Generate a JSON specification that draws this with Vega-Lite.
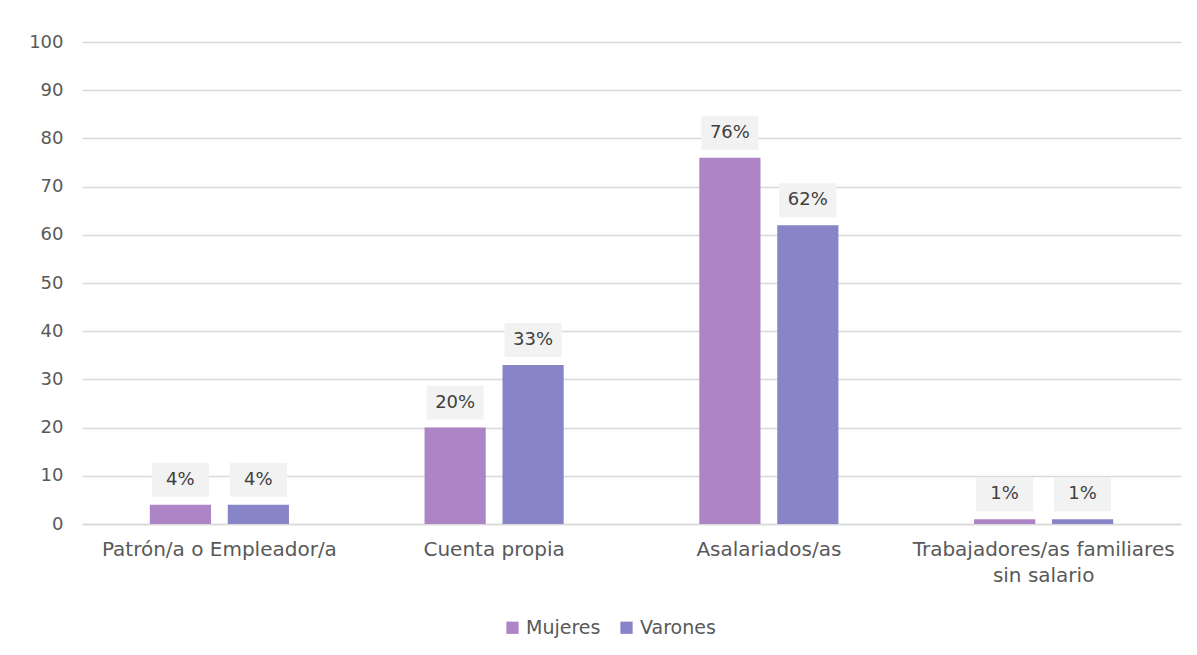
{
  "$schema": "https://vega.github.io/schema/vega-lite/v6.json",
  "width": 1099,
  "height": 482,
  "autosize": "none",
  "padding": {"left": 82, "top": 42, "right": 16, "bottom": 131},
  "background": "white",
  "config": {
    "view": {"stroke": null},
    "font": "DejaVu Sans",
    "axis": {"labelFont": "DejaVu Sans", "labelColor": "#595959", "labelFontSize": 18},
    "legend": {"labelFont": "DejaVu Sans", "labelColor": "#595959", "labelFontSize": 19}
  },
  "data": {
    "values": [
      {"categoria": "Patrón/a o Empleador/a", "sexo": "Mujeres", "valor": 4, "etiqueta": "4%"},
      {"categoria": "Patrón/a o Empleador/a", "sexo": "Varones", "valor": 4, "etiqueta": "4%"},
      {"categoria": "Cuenta propia", "sexo": "Mujeres", "valor": 20, "etiqueta": "20%"},
      {"categoria": "Cuenta propia", "sexo": "Varones", "valor": 33, "etiqueta": "33%"},
      {"categoria": "Asalariados/as", "sexo": "Mujeres", "valor": 76, "etiqueta": "76%"},
      {"categoria": "Asalariados/as", "sexo": "Varones", "valor": 62, "etiqueta": "62%"},
      {"categoria": "Trabajadores/as familiares sin salario", "sexo": "Mujeres", "valor": 1, "etiqueta": "1%"},
      {"categoria": "Trabajadores/as familiares sin salario", "sexo": "Varones", "valor": 1, "etiqueta": "1%"}
    ]
  },
  "encoding": {
    "x": {
      "field": "categoria", "type": "nominal", "sort": null,
      "scale": {"paddingInner": 0, "paddingOuter": 0},
      "axis": {
        "title": null, "labelAngle": 0, "domain": true, "domainColor": "#d9d9d9", "domainWidth": 1.3, "ticks": false,
        "labelPadding": 15, "labelLineHeight": 26, "labelFontSize": 20, "labelLimit": 0,
        "labelExpr": "datum.label == 'Trabajadores/as familiares sin salario' ? ['Trabajadores/as familiares', 'sin salario'] : datum.label"
      }
    },
    "xOffset": {
      "field": "sexo", "type": "nominal", "sort": ["Mujeres", "Varones"],
      "scale": {"paddingInner": 0.215, "paddingOuter": 0.87}
    },
    "y": {
      "field": "valor", "type": "quantitative",
      "scale": {"domain": [0, 100]},
      "axis": {
        "title": null, "values": [0, 10, 20, 30, 40, 50, 60, 70, 80, 90, 100],
        "domain": false, "ticks": false, "labelPadding": 19,
        "gridColor": "#d9d9d9", "gridWidth": 1.3
      }
    }
  },
  "layer": [
    {
      "mark": {"type": "bar"},
      "encoding": {
        "color": {
          "field": "sexo", "type": "nominal", "sort": ["Mujeres", "Varones"],
          "scale": {"domain": ["Mujeres", "Varones"], "range": ["#ad84c6", "#8784c7"]},
          "legend": {
            "title": null, "orient": "none", "direction": "horizontal",
            "legendX": 421, "legendY": 576,
            "symbolType": "square", "symbolSize": 150, "symbolStrokeWidth": 0,
            "symbolOpacity": 1, "columnPadding": 16, "labelOffset": 4
          }
        }
      }
    },
    {
      "mark": {
        "type": "point", "filled": true, "opacity": 1, "color": "#f2f2f2",
        "shape": "M-0.84,-0.5H0.84V0.5H-0.84Z", "size": 4624, "yOffset": -25
      }
    },
    {
      "mark": {
        "type": "text", "fontSize": 18, "color": "#404040", "yOffset": -25,
        "baseline": "middle", "align": "center"
      },
      "encoding": {"text": {"field": "etiqueta"}}
    }
  ]
}
